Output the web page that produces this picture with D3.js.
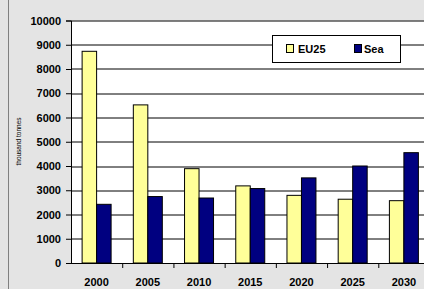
<!DOCTYPE html>
<html>
<head>
<meta charset="utf-8">
<script src="https://cdn.jsdelivr.net/npm/d3@7"></script>
<style>
  body { margin: 0; background: #fff; }
  svg { display: block; font-family: Arial, "Liberation Sans", sans-serif; }
</style>
</head>
<body>
<div id="chart"></div>
<script>
// Data
const years = ["2000", "2005", "2010", "2015", "2020", "2025", "2030"];
const eu25 = [8730, 6520, 3890, 3180, 2790, 2630, 2570];
const sea = [2420, 2740, 2680, 3070, 3510, 4000, 4550];
const yTicks = [0, 1000, 2000, 3000, 4000, 5000, 6000, 7000, 8000, 9000, 10000];
const seriesNames = ["EU25", "Sea"];
const colors = {EU25: "#ffff99", Sea: "#000080"};

const W = 424, H = 289;
const margin = {top: 20.5, right: -5.5, bottom: 26, left: 71};
const width = W - margin.left - margin.right,
    height = H - margin.top - margin.bottom;

const svg = d3.select("#chart").append("svg")
    .attr("width", W)
    .attr("height", H);

// grey page background with left border
svg.append("rect")
    .attr("x", 0).attr("y", 0).attr("width", W).attr("height", H)
    .attr("fill", "#e4e4e4");
svg.append("line")
    .attr("x1", 8.5).attr("x2", 8.5).attr("y1", 0).attr("y2", H)
    .attr("stroke", "#808080");

const g = svg.append("g")
    .attr("transform", `translate(${margin.left},${margin.top})`);

// Scales
const x = d3.scaleBand().domain(years).range([0, width]);
const y = d3.scaleLinear().domain([0, 10000]).range([height, 0]);
const barW = x.bandwidth() * 0.283;

// plot area
g.append("rect")
    .attr("width", width).attr("height", height)
    .attr("fill", "#fff");

// gridlines
g.selectAll(".grid")
    .data(yTicks.slice(1))
    .join("line")
    .attr("class", "grid")
    .attr("x1", 0).attr("x2", width)
    .attr("y1", d => Math.round(y(d)) + 0.5)
    .attr("y2", d => Math.round(y(d)) + 0.5)
    .attr("stroke", "#000")
    .attr("stroke-width", 1);

// bars
const data = years.map((yr, i) => ({year: yr, EU25: eu25[i], Sea: sea[i]}));
seriesNames.forEach((s, si) => {
    g.selectAll(".bar" + s)
        .data(data)
        .join("rect")
        .attr("class", "bar" + s)
        .attr("x", d => x(d.year) + x.bandwidth() / 2 - barW + si * barW)
        .attr("y", d => y(d[s]))
        .attr("width", barW)
        .attr("height", d => height - y(d[s]))
        .attr("fill", colors[s])
        .attr("stroke", "#000")
        .attr("stroke-width", 1);
});

// Y axis
const yAxis = g.append("g")
    .call(d3.axisLeft(y).tickValues(yTicks).tickSize(5).tickPadding(5).tickFormat(d3.format("d")));
yAxis.select(".domain").attr("stroke", "#000");
yAxis.selectAll("text")
    .style("font-size", "11px")
    .style("font-weight", "bold")
    .attr("fill", "#000");

// X axis: ticks between categories
const xAxis = g.append("g")
    .attr("transform", `translate(0,${height})`)
    .call(d3.axisBottom(x).tickSize(0).tickPadding(15));
xAxis.select(".domain").remove();
xAxis.selectAll("text")
    .style("font-size", "11px")
    .style("font-weight", "bold")
    .attr("fill", "#000");
g.append("line")
    .attr("x1", 0).attr("x2", width)
    .attr("y1", height + 0.5).attr("y2", height + 0.5)
    .attr("stroke", "#000");
g.selectAll(".xtick")
    .data(years.slice(1))
    .join("line")
    .attr("class", "xtick")
    .attr("x1", d => x(d) + 0.5).attr("x2", d => x(d) + 0.5)
    .attr("y1", height).attr("y2", height + 5)
    .attr("stroke", "#000");

// Y axis title
svg.append("text")
    .attr("transform", `translate(21,141.5) rotate(-90)`)
    .attr("text-anchor", "middle")
    .style("font-size", "6.5px")
    .text("thousand tonnes");

// Legend
const legend = svg.append("g").attr("transform", "translate(272,35)");
legend.append("rect")
    .attr("x", 0.5).attr("y", 0.5).attr("width", 128).attr("height", 27)
    .attr("fill", "#fff").attr("stroke", "#000");
const legX = [14, 82];
seriesNames.forEach((s, i) => {
    legend.append("rect")
        .attr("x", legX[i] + 0.5).attr("y", 9.5).attr("width", 7).attr("height", 8)
        .attr("fill", colors[s]).attr("stroke", "#000");
    legend.append("text")
        .attr("x", legX[i] + 10 + (i === 0 ? 2 : 0)).attr("y", 18)
        .style("font-size", "11px")
        .style("font-weight", "bold")
        .text(s);
});
</script>
</body>
</html>
